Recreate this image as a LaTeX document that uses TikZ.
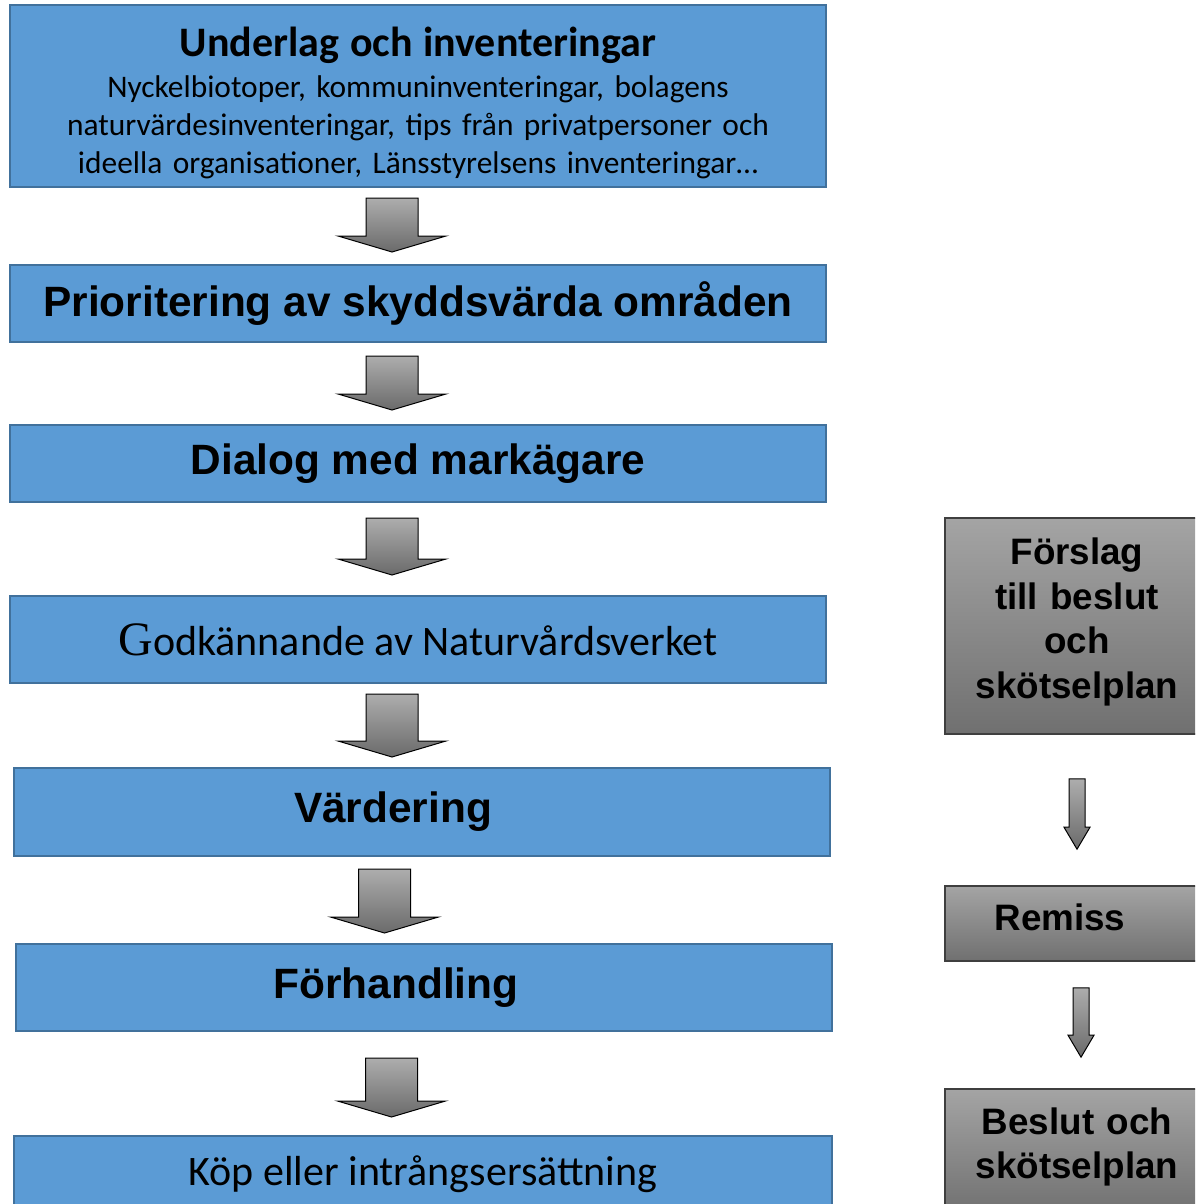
\documentclass[tikz,border=0pt]{standalone}
\usepackage{fontspec}
\setmainfont{Carlito}
\newfontfamily\arialfont{Liberation Sans}
\newfontfamily\timesfont{Liberation Serif}
\usetikzlibrary{calc}
\definecolor{boxblue}{HTML}{5B9BD5}
\definecolor{boxedge}{HTML}{41719C}
\definecolor{greylight}{HTML}{A4A4A4}
\definecolor{greydark}{HTML}{707070}
\definecolor{greyedge}{HTML}{3F3F3F}

\newcommand{\flowarrow}[5]{%
  \draw[arrowbody] let \p1=#1, \p2=#2 in
    (\x1-#3,\y1) -- (\x1+#3,\y1) -- (\x1+#3,\y2+#5) -- (\x1+#4,\y2+#5)
    -- (\x1,\y2) -- (\x1-#4,\y2+#5) -- (\x1-#3,\y2+#5) -- cycle;}
\newcommand{\bottompad}[1]{\par\vspace*{#1}\hrule height 0pt width 0pt}

\begin{document}
\begin{tikzpicture}[x=0.5pt,y=-0.5pt,
  stepbox/.style={draw=boxedge, fill=boxblue, line width=1pt, minimum width=408pt,
    inner sep=0pt, align=center, font=\fontsize{21}{25}\selectfont},
  headtext/.style={font=\arialfont\bfseries\fontsize{21.2}{25}\selectfont},
  sidebox/.style={draw=greyedge, line width=0.8pt, top color=greylight, bottom color=greydark,
    minimum width=132pt, inner sep=0pt, align=center, text width=130pt,
    font=\arialfont\bfseries\fontsize{18.4}{22.4}\selectfont},
  arrowbody/.style={draw=black, line width=0.5pt, top color=greylight!90!white, bottom color=greydark!95!black}]
\useasboundingbox (0,0) rectangle (1195,1204);
\clip (0,0) rectangle (1195,1204);

\node[stepbox, minimum height=91pt, text width=400pt, font=\fontsize{15.7}{19}\selectfont] (under) at (418,96)
  {{\bfseries\fontsize{21}{25}\selectfont Underlag och inventeringar}\\[1.5pt]
   Nyckelbiotoper, kommuninventeringar, bolagens\\
   naturvärdesinventeringar, tips från privatpersoner och\\
   ideella organisationer, Länsstyrelsens inventeringar…\bottompad{-7pt}};
\node[stepbox, headtext, minimum height=38.5pt] (prio) at (418,303.5) {Prioritering av skyddsvärda områden};
\node[stepbox, headtext, minimum height=38.5pt] (dialog) at (418,463.5) {Dialog med markägare};
\node[stepbox, minimum height=43.5pt] (godk) at (418,639.5)
  {{\timesfont\fontsize{24}{25}\selectfont G}odkännande av Naturvårdsverket};
\node[stepbox, headtext, minimum height=44pt] (varde) at (422,812) {Värdering\hspace*{29pt}};
\node[stepbox, headtext, minimum height=43.5pt] (forh) at (424,987.5) {Förhandling\hspace*{28pt}};
\node[stepbox, minimum width=409pt, minimum height=38pt] (kop) at (423,1174) {Köp eller intrångsersättning};

\node[sidebox, minimum height=108pt] (forslag) at (1077,626)
  {Förslag\\till beslut\\och\\skötselplan\bottompad{4pt}};
\node[sidebox, minimum height=37.5pt] (remiss) at (1077,923.5)
  {Remiss\hspace*{17pt}\null\bottompad{6pt}};
\node[sidebox, minimum height=63pt] (beslut) at (1077,1152)
  {Beslut och\\skötselplan\bottompad{5pt}};

\flowarrow{($(under.south)+(-26,10)$)}{($(prio.north)+(-26,-12)$)}{13pt}{27pt}{8pt}
\flowarrow{($(prio.south)+(-26,13)$)}{($(dialog.north)+(-26,-14)$)}{13pt}{27pt}{8pt}
\flowarrow{($(dialog.south)+(-26,15)$)}{($(godk.north)+(-26,-20)$)}{13pt}{27pt}{8pt}
\flowarrow{($(godk.south)+(-26,10)$)}{($(varde.north)+(-30,-10)$)}{13pt}{27pt}{8pt}
\flowarrow{($(varde.south)+(-37.5,12)$)}{($(forh.north)+(-39.5,-10)$)}{13pt}{27pt}{8pt}
\flowarrow{($(forh.south)+(-32.5,26)$)}{($(kop.north)+(-31.5,-18)$)}{13pt}{27pt}{8pt}
\flowarrow{($(forslag.south)+(0,44)$)}{($(remiss.north)+(0,-36)$)}{4pt}{6.5pt}{11pt}
\flowarrow{($(remiss.south)+(4,26)$)}{($(beslut.north)+(4,-31)$)}{4pt}{6.5pt}{11pt}
\end{tikzpicture}
\end{document}
